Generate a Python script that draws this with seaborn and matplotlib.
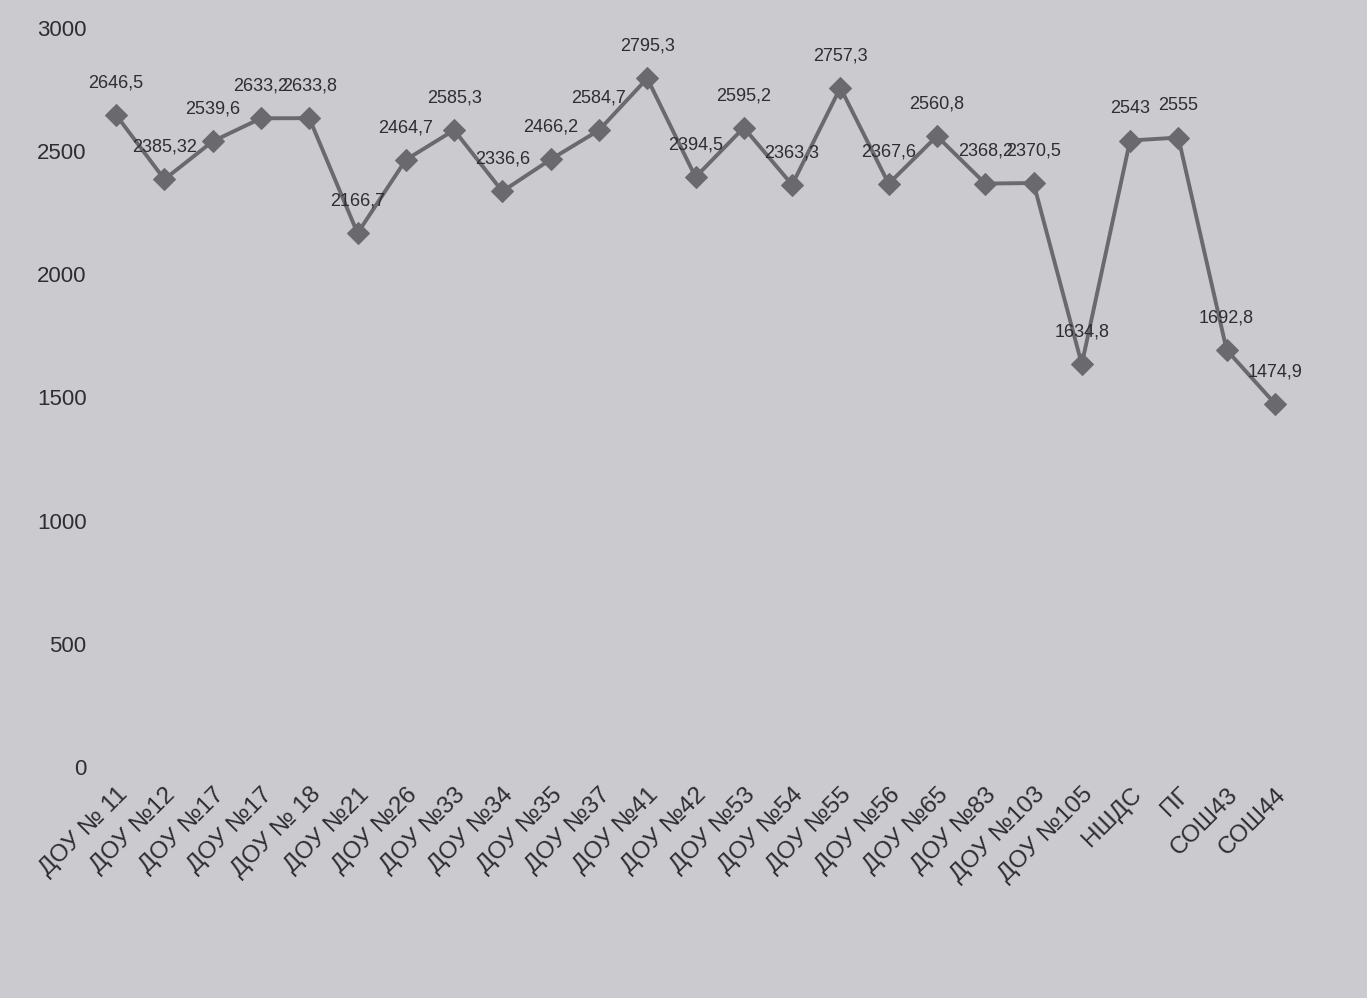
import matplotlib
matplotlib.use("Agg")
import matplotlib.pyplot as plt
import seaborn as sns
import pandas as pd

# chart data
categories = ["ДОУ № 11", "ДОУ №12", "ДОУ №17", "ДОУ №17", "ДОУ № 18", "ДОУ №21",
              "ДОУ №26", "ДОУ №33", "ДОУ №34", "ДОУ №35", "ДОУ №37", "ДОУ №41",
              "ДОУ №42", "ДОУ №53", "ДОУ №54", "ДОУ №55", "ДОУ №56", "ДОУ №65",
              "ДОУ №83", "ДОУ №103", "ДОУ №105", "НШДС", "ПГ", "СОШ43", "СОШ44"]
values = [2646.5, 2385.32, 2539.6, 2633.2, 2633.8, 2166.7, 2464.7, 2585.3, 2336.6,
          2466.2, 2584.7, 2795.3, 2394.5, 2595.2, 2363.3, 2757.3, 2367.6, 2560.8,
          2368.2, 2370.5, 1634.8, 2543, 2555, 1692.8, 1474.9]
y_ticks = [0, 500, 1000, 1500, 2000, 2500, 3000]

df = pd.DataFrame({"pos": range(len(categories)), "value": values})

sns.set_style("white")
plt.rcParams["font.family"] = ["Liberation Sans", "DejaVu Sans"]

bg = "#cbcbcf"
line_col = "#6a6a6e"
text_col = "#2e2e32"

fig = plt.figure(figsize=(13.67, 9.98), dpi=100, facecolor=bg)
ax = fig.add_axes([0.0673, 0.2315, 0.883, 0.7405])
ax.set_facecolor(bg)

sns.lineplot(data=df, x="pos", y="value", ax=ax, color=line_col, linewidth=2.8,
             marker="D", markersize=11, markeredgecolor=line_col)

# data labels, comma as decimal separator (they overlap in places, as in the source)
for i, v in enumerate(values):
    ax.annotate(f"{v:g}".replace(".", ","), (i, v), xytext=(0, 17),
                textcoords="offset points", ha="center", va="bottom",
                fontsize=13, color=text_col)

ax.set_xlim(-0.5, len(categories) - 0.5)
ax.set_ylim(0, 3000)
ax.set_yticks(y_ticks)
ax.set_yticklabels([str(t) for t in y_ticks], fontsize=16, color=text_col)
ax.set_xticks(range(len(categories)))
ax.set_xticklabels(categories, rotation=45, ha="right", rotation_mode="anchor",
                   fontsize=17.5, color=text_col)
ax.tick_params(axis="y", length=0, pad=4)
ax.tick_params(axis="x", length=0, pad=12)
ax.set_xlabel("")
ax.set_ylabel("")
sns.despine(ax=ax, left=True, bottom=True)

fig.savefig("out.png", dpi=100, facecolor=bg)
